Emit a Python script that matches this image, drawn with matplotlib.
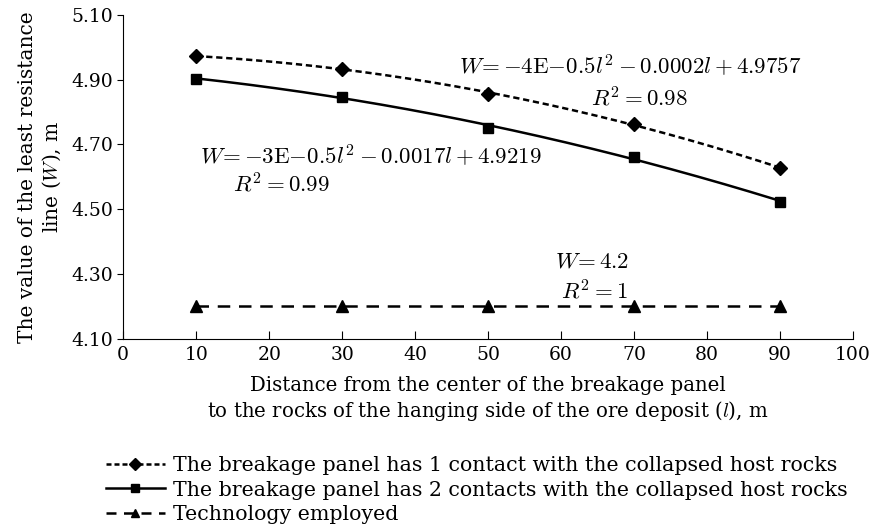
import matplotlib
matplotlib.use("Agg")
import matplotlib.pyplot as plt
import numpy as np

plt.rcParams['font.family'] = ['DejaVu Serif']
plt.rcParams['mathtext.fontset'] = 'cm'

# distance l, m
dist = [10, 30, 50, 70, 90]
# W values, m
one_contact = [4.973, 4.933, 4.857, 4.764, 4.627]
two_contacts = [4.903, 4.848, 4.751, 4.661, 4.524]
employed = [4.2, 4.2, 4.2, 4.2, 4.2]

labels = ["The breakage panel has 1 contact with the collapsed host rocks",
          "The breakage panel has 2 contacts with the collapsed host rocks",
          "Technology employed"]

fig = plt.figure(figsize=(8.74, 5.32), dpi=100)
ax = fig.add_axes([0.141, 0.363, 0.835, 0.609])

# trendlines (2nd order, as in the source) fitted to the points
ll = np.linspace(10, 90, 200)
c1 = np.polyfit(dist, one_contact, 2)
c2 = np.polyfit(dist, two_contacts, 2)
ax.plot(ll, np.polyval(c1, ll), color='black', ls=(0, (2.5, 1.5)), lw=1.8)
ax.plot(ll, np.polyval(c2, ll), color='black', ls='-', lw=1.8)
ax.plot(dist, employed, color='black', ls=(0, (5, 3.5)), lw=1.8)

ax.plot(dist, one_contact, 'D', color='black', ms=7, ls='none')
ax.plot(dist, two_contacts, 's', color='black', ms=7, ls='none')
ax.plot(dist, employed, '^', color='black', ms=8, ls='none')

# legend proxies
h1, = ax.plot([], [], color='black', ls=(0, (2, 1.2)), lw=1.8, marker='D', ms=6)
h2, = ax.plot([], [], color='black', ls='-', lw=1.8, marker='s', ms=6)
h3, = ax.plot([], [], color='black', ls=(0, (4, 3)), lw=1.8, marker='^', ms=6)
fig.legend([h1, h2, h3], labels, loc='upper left', bbox_to_anchor=(0.109, 0.162),
           frameon=False, fontsize=14.8, handlelength=2.9, handletextpad=0.4,
           labelspacing=0.27, borderpad=0)

ax.set_xlim(0, 100)
ax.set_ylim(4.10, 5.10)
ax.set_xticks(range(0, 101, 10))
ax.set_yticks([4.10, 4.30, 4.50, 4.70, 4.90, 5.10])
ax.set_yticklabels(['4.10', '4.30', '4.50', '4.70', '4.90', '5.10'])
ax.tick_params(axis='x', direction='in', length=6, labelsize=13.5, pad=5)
ax.tick_params(axis='y', direction='out', length=4, labelsize=13.5)
ax.spines['top'].set_visible(False)
ax.spines['right'].set_visible(False)

ax.set_xlabel("Distance from the center of the breakage panel\n"
              "to the rocks of the hanging side of the ore deposit ($l$), m",
              fontsize=14.2, labelpad=9)
ax.set_ylabel("The value of the least resistance\nline ($W$), m", fontsize=14.5,
              labelpad=6)

ax.text(69.5, 4.94, r'$W\!= -4\mathrm{E}{-}0.5l^2 - 0.0002l + 4.9757$',
        fontsize=16.5, ha='center', va='center')
ax.text(70.8, 4.84, r'$R^2 = 0.98$', fontsize=16.5, ha='center', va='center')
ax.text(34, 4.662, r'$W\!= -3\mathrm{E}{-}0.5l^2 - 0.0017l + 4.9219$',
        fontsize=16.5, ha='center', va='center')
ax.text(21.7, 4.575, r'$R^2 = 0.99$', fontsize=16.5, ha='center', va='center')
ax.text(64.3, 4.338, r'$W\!= 4.2$', fontsize=16.5, ha='center', va='center')
ax.text(64.5, 4.245, r'$R^2 = 1$', fontsize=16.5, ha='center', va='center')

fig.savefig('out.png', dpi=100)
